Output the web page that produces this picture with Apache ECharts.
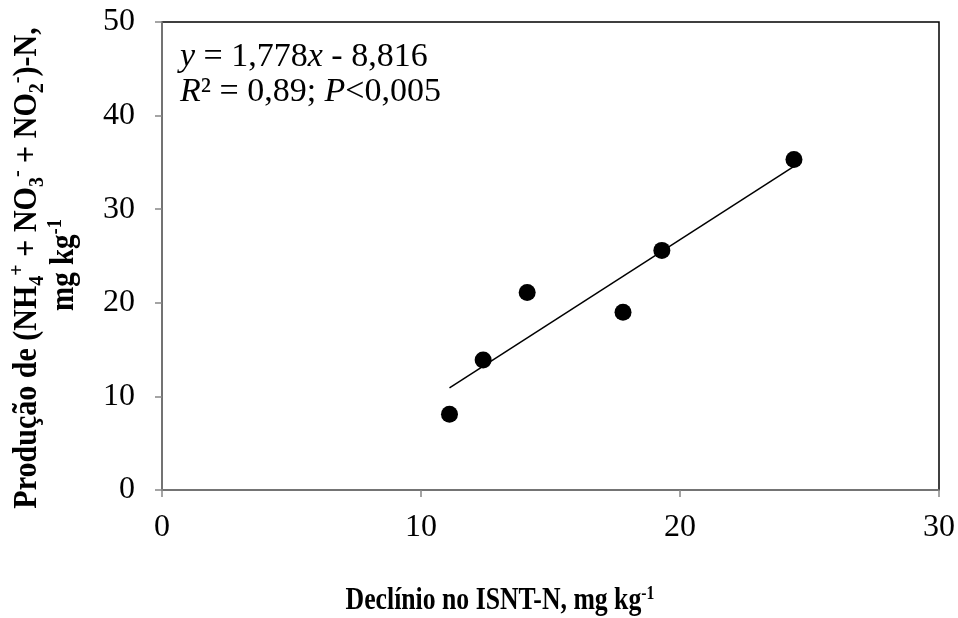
<!DOCTYPE html>
<html>
<head>
<meta charset="utf-8">
<script src="https://cdn.jsdelivr.net/npm/echarts@6/dist/echarts.min.js"></script>
<style>html,body{margin:0;padding:0;background:#fff}#c{width:958px;height:618px}</style>
</head>
<body>
<div id="c"></div>
<script>
var declinio = [11.1, 12.4, 14.1, 17.8, 19.3, 24.4];
var producao = [8.1, 13.9, 21.1, 19.0, 25.6, 35.3];
var slope = 1.778;
var intercept = -8.816;
var xTicks = [0, 10, 20, 30];
var yTicks = [0, 10, 20, 30, 40, 50];

var pts = declinio.map(function (x, i) { return [x, producao[i]]; });
var xmin = Math.min.apply(null, declinio), xmax = Math.max.apply(null, declinio);
var fit = [[xmin, slope * xmin + intercept], [xmax, slope * xmax + intercept]];

var FONT = 'Liberation Serif';
var chart = echarts.init(document.getElementById('c'));
chart.setOption({
  animation: false,
  backgroundColor: '#fff',
  grid: { left: 162, right: 19, top: 22, bottom: 128, show: true, borderColor: '#000', borderWidth: 1.5, backgroundColor: 'transparent' },
  xAxis: {
    type: 'value', min: xTicks[0], max: xTicks[xTicks.length - 1], interval: 10,
    axisLine: { show: true, lineStyle: { color: '#868686', width: 1.5 } },
    axisTick: { show: true, inside: false, length: 7, lineStyle: { color: '#868686', width: 1.5 } },
    axisLabel: { fontFamily: FONT, fontSize: 32, color: '#000', margin: 22 },
    splitLine: { show: false }
  },
  yAxis: {
    type: 'value', min: yTicks[0], max: yTicks[yTicks.length - 1], interval: 10,
    axisLine: { show: true, lineStyle: { color: '#868686', width: 1.5 } },
    axisTick: { show: true, inside: false, length: 7, lineStyle: { color: '#868686', width: 1.5 } },
    axisLabel: { fontFamily: FONT, fontSize: 32, color: '#000', margin: 27 },
    splitLine: { show: false }
  },
  series: [
    {
      type: 'line', data: fit, symbol: 'none', silent: true,
      lineStyle: { color: '#000', width: 1.5 }, z: 2
    },
    {
      type: 'scatter', data: pts, symbol: 'circle', symbolSize: 17,
      itemStyle: { color: '#000', opacity: 1 }, z: 3
    }
  ],
  graphic: [
    {
      type: 'text', left: 180, top: 40, z: 10,
      style: {
        text: '{i|y} = 1,778{i|x} - 8,816\n{i|R}² = 0,89; {i|P}<0,005',
        font: '34px "Liberation Serif"', fill: '#000', lineHeight: 35,
        rich: { i: { fontStyle: 'italic', fontFamily: FONT, fontSize: 34 } }
      }
    },
    {
      type: 'text', x: 500, y: 601, scaleX: 0.83, z: 10,
      style: {
        text: 'Declínio no ISNT-N, mg kg{sup|-1}',
        font: 'bold 31px "Liberation Serif"', fill: '#000', align: 'center', verticalAlign: 'middle',
        rich: { sup: { fontSize: 19, fontWeight: 'bold', fontFamily: FONT, verticalAlign: 'top', lineHeight: 32 } }
      }
    },
    {
      type: 'text', x: 27, y: 268, rotation: Math.PI / 2, scaleX: 0.91, z: 10,
      style: {
        text: 'Produção de (NH{sub|4}{sup|+} + NO{sub|3}{sup|-} + NO{sub|2}{sup|-})-N,',
        font: 'bold 33px "Liberation Serif"', fill: '#000', align: 'center', verticalAlign: 'middle',
        rich: {
          sub: { fontSize: 22, fontWeight: 'bold', fontFamily: FONT, verticalAlign: 'bottom', lineHeight: 42 },
          sup: { fontSize: 22, fontWeight: 'bold', fontFamily: FONT, verticalAlign: 'top', lineHeight: 42 }
        }
      }
    },
    {
      type: 'text', x: 64, y: 265, rotation: Math.PI / 2, scaleX: 0.88, z: 10,
      style: {
        text: 'mg kg{sup|-1}',
        font: 'bold 33px "Liberation Serif"', fill: '#000', align: 'center', verticalAlign: 'middle',
        rich: { sup: { fontSize: 21, fontWeight: 'bold', fontFamily: FONT, verticalAlign: 'top', lineHeight: 38 } }
      }
    }
  ]
});
</script>
</body>
</html>
